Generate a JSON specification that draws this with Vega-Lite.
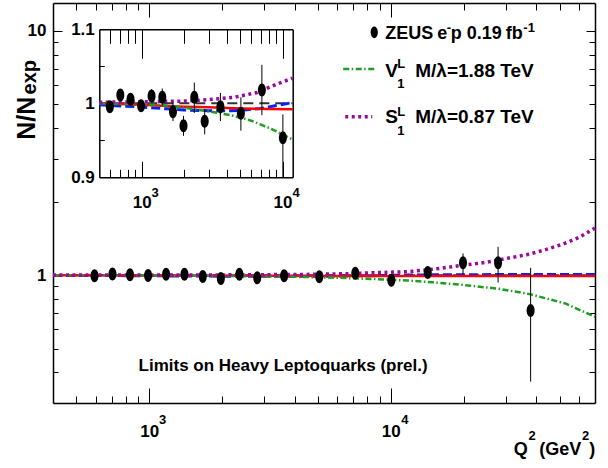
{
"$schema":"https://vega.github.io/schema/vega-lite/v6.json",
"width":542,"height":400,
"autosize":{"type":"none"},
"padding":{"left":53,"top":3,"right":13,"bottom":65},
"background":"white",
"config":{"view":{"stroke":null},"axis":{"grid":false,"domainColor":"black","domainWidth":1.5,"tickColor":"black","tickWidth":1,"labelFont":"Liberation Sans","labelFontWeight":"bold","labelFontSize":17,"labelColor":"black","labelFlush":false,"labelOverlap":false,"labelBound":false}},
"datasets":{
"pts":[
{"q":594,"r":0.9954,"lo":0.989,"hi":1.002},
{"q":705,"r":1.0112,"lo":1.004,"hi":1.018},
{"q":833,"r":1.0054,"lo":0.998,"hi":1.013},
{"q":990,"r":0.9968,"lo":0.989,"hi":1.005},
{"q":1175,"r":1.0099,"lo":1.001,"hi":1.019},
{"q":1400,"r":1.0081,"lo":0.997,"hi":1.020},
{"q":1667,"r":0.9887,"lo":0.976,"hi":1.001},
{"q":1980,"r":0.9697,"lo":0.956,"hi":0.983},
{"q":2363,"r":1.0081,"lo":0.987,"hi":1.028},
{"q":2800,"r":0.9757,"lo":0.958,"hi":0.992},
{"q":3620,"r":0.9954,"lo":0.976,"hi":1.014},
{"q":5060,"r":0.9865,"lo":0.963,"hi":1.008},
{"q":7130,"r":1.018,"lo":0.984,"hi":1.052},
{"q":10050,"r":0.9535,"lo":0.9,"hi":0.985},
{"q":14220,"r":1.026,"lo":0.99,"hi":1.062},
{"q":19900,"r":1.124,"lo":1.009,"hi":1.228},
{"q":27800,"r":1.124,"lo":0.933,"hi":1.307},
{"q":37900,"r":0.718,"lo":0.367,"hi":1.072}
],
"curves":[
{"q":400,"r":1,"model":"SM"},{"q":500,"r":1,"model":"SM"},{"q":11800,"r":1,"model":"SM"},{"q":70000,"r":1,"model":"SM"},
{"q":400,"r":1.0,"model":"red"},{"q":500,"r":1.0,"model":"red"},{"q":700,"r":0.999,"model":"red"},{"q":1000,"r":0.998,"model":"red"},{"q":1500,"r":0.9965,"model":"red"},{"q":2000,"r":0.9955,"model":"red"},{"q":3000,"r":0.9945,"model":"red"},{"q":5000,"r":0.993,"model":"red"},{"q":8000,"r":0.9922,"model":"red"},{"q":11800,"r":0.992,"model":"red"},{"q":20000,"r":0.992,"model":"red"},{"q":70000,"r":0.992,"model":"red"},
{"q":400,"r":0.9985,"model":"blue"},{"q":500,"r":0.998,"model":"blue"},{"q":700,"r":0.9965,"model":"blue"},{"q":1000,"r":0.995,"model":"blue"},{"q":1500,"r":0.9925,"model":"blue"},{"q":2000,"r":0.991,"model":"blue"},{"q":3000,"r":0.99,"model":"blue"},{"q":4000,"r":0.99,"model":"blue"},{"q":5000,"r":0.9905,"model":"blue"},{"q":7000,"r":0.993,"model":"blue"},{"q":9000,"r":0.997,"model":"blue"},{"q":11800,"r":1.001,"model":"blue"},{"q":15000,"r":1.004,"model":"blue"},{"q":20000,"r":1.005,"model":"blue"},{"q":30000,"r":1.006,"model":"blue"},{"q":70000,"r":1.006,"model":"blue"},
{"q":400,"r":1.0,"model":"V"},{"q":500,"r":1.0,"model":"V"},{"q":700,"r":0.9995,"model":"V"},{"q":1000,"r":0.999,"model":"V"},{"q":1500,"r":0.997,"model":"V"},{"q":2000,"r":0.994,"model":"V"},{"q":3000,"r":0.989,"model":"V"},{"q":4300,"r":0.984,"model":"V"},{"q":5900,"r":0.977,"model":"V"},{"q":8200,"r":0.966,"model":"V"},{"q":10000,"r":0.958,"model":"V"},{"q":11800,"r":0.951,"model":"V"},{"q":15000,"r":0.935,"model":"V"},{"q":20000,"r":0.912,"model":"V"},{"q":28000,"r":0.88,"model":"V"},{"q":38000,"r":0.835,"model":"V"},{"q":53000,"r":0.765,"model":"V"},{"q":70000,"r":0.675,"model":"V"},
{"q":400,"r":1.0015,"model":"S"},{"q":500,"r":1.0015,"model":"S"},{"q":1000,"r":1.002,"model":"S"},{"q":2000,"r":1.003,"model":"S"},{"q":3000,"r":1.005,"model":"S"},{"q":4500,"r":1.008,"model":"S"},{"q":6600,"r":1.0145,"model":"S"},{"q":9100,"r":1.026,"model":"S"},{"q":11800,"r":1.034,"model":"S"},{"q":15000,"r":1.058,"model":"S"},{"q":20000,"r":1.099,"model":"S"},{"q":25000,"r":1.13,"model":"S"},{"q":30000,"r":1.17,"model":"S"},{"q":37500,"r":1.22,"model":"S"},{"q":44000,"r":1.275,"model":"S"},{"q":51500,"r":1.34,"model":"S"},{"q":60400,"r":1.43,"model":"S"},{"q":70000,"r":1.56,"model":"S"}
],
"leg":[
{"q":6355,"r":6.981,"model":"V"},{"q":8623,"r":6.981,"model":"V"},
{"q":6478,"r":4.455,"model":"S"},{"q":8380,"r":4.455,"model":"S"}
],
"legmark":[{"q":8541,"r":9.864}],
"txtL":[
{"q":9484,"r":6.493,"t":"V"},{"q":12624,"r":6.493,"t":"M/λ=1.88 TeV"},
{"q":9484,"r":4.184,"t":"S"},{"q":12624,"r":4.184,"t":"M/λ=0.87 TeV"}
],
"txtZ":[
{"q":9484,"r":9.235,"t":"ZEUS"},{"q":15573,"r":9.235,"t":"e"},{"q":17712,"r":9.235,"t":"p"},{"q":20630,"r":9.235,"t":"0.19"},{"q":29930,"r":9.235,"t":"fb"}
],
"txtX":[
{"q":32240,"r":0.1837,"t":"Q"},{"q":41190,"r":0.1837,"t":"(GeV"},{"q":66340,"r":0.1837,"t":")"}
],
"txtS":[
{"q":17050,"r":9.92,"t":"-"},{"q":35370,"r":9.92,"t":"-1"},
{"q":10635,"r":7.027,"t":"L"},{"q":10635,"r":5.82,"t":"1"},
{"q":10635,"r":4.497,"t":"L"},{"q":10635,"r":3.749,"t":"1"},
{"q":37100,"r":0.2117,"t":"2"},{"q":61780,"r":0.2117,"t":"2"},
{"q":1099.2,"r":0.24728,"t":"3"},{"q":11048,"r":0.24728,"t":"4"}
],
"txtLim":[{"q":904,"r":0.4056,"t":"Limits on Heavy Leptoquarks (prel.)"}],
"ytitle":[{"q":336.9,"r":5.377,"t":"N/N"}],
"ysub":[{"q":340.1,"r":7.6,"t":"exp"}],
"insetExp":[{"q":1173.5,"r":0.8738,"t":"3"},{"q":11763,"r":0.8738,"t":"4"}]
},
"resolve":{"scale":{"x":"independent","y":"independent"}},
"layer":[
{
"resolve":{"axis":{"x":"independent","y":"independent"}},
"layer":[
{"data":{"name":"curves"},"transform":[{"filter":"datum.model=='SM'"}],
 "mark":{"type":"line","color":"#333333","strokeWidth":2,"strokeDash":[10,6]},
 "encoding":{
  "x":{"field":"q","type":"quantitative","scale":{"type":"log","domain":[400,70000],"nice":false},
   "axis":{"orient":"bottom","title":null,"values":[500,600,700,800,900,1000,2000,3000,4000,5000,6000,7000,8000,9000,10000,20000,30000,40000,50000,60000],"labelExpr":"datum.value==1000||datum.value==10000?'10':''","tickSize":{"condition":{"test":"datum.value==1000||datum.value==10000","value":-15},"value":-7},"labelPadding":35}},
  "y":{"field":"r","type":"quantitative","scale":{"type":"log","domain":[0.3,13],"nice":false},
   "axis":{"orient":"left","title":null,"values":[0.4,0.5,0.6,0.7,0.8,0.9,1,2,3,4,5,6,7,8,9,10],"labelExpr":"datum.value==1?'1':datum.value==10?'10':''","tickSize":{"condition":{"test":"datum.value==1||datum.value==10","value":-9},"value":-5},"labelPadding":16}}}},
{"data":{"name":"curves"},"transform":[{"filter":"datum.model=='blue'"}],
 "mark":{"type":"line","color":"#0022ff","strokeWidth":3,"strokeDash":[9,4]},
 "encoding":{
  "x":{"field":"q","type":"quantitative","scale":{"type":"log","domain":[400,70000],"nice":false},
   "axis":{"orient":"top","title":null,"values":[500,600,700,800,900,1000,2000,3000,4000,5000,6000,7000,8000,9000,10000,20000,30000,40000,50000,60000],"labels":false,"tickSize":{"condition":{"test":"datum.value==1000||datum.value==10000","value":-14},"value":-7}}},
  "y":{"field":"r","type":"quantitative","scale":{"type":"log","domain":[0.3,13],"nice":false},
   "axis":{"orient":"right","title":null,"values":[0.4,0.5,0.6,0.7,0.8,0.9,1,2,3,4,5,6,7,8,9,10],"labels":false,"tickSize":{"condition":{"test":"datum.value==1||datum.value==10","value":-9},"value":-6}}}}},
{"data":{"name":"curves"},"transform":[{"filter":"datum.model=='red'"}],
 "mark":{"type":"line","color":"#ff0000","strokeWidth":2.5},
 "encoding":{"x":{"field":"q","type":"quantitative","scale":{"type":"log","domain":[400,70000],"nice":false},"axis":null},
  "y":{"field":"r","type":"quantitative","scale":{"type":"log","domain":[0.3,13],"nice":false},"axis":null}}},
{"data":{"name":"curves"},"transform":[{"filter":"datum.model=='V'"}],
 "mark":{"type":"line","color":"#1e9e1e","strokeWidth":2.5,"strokeDash":[6,2.5,1.5,2.5]},
 "encoding":{"x":{"field":"q","type":"quantitative","scale":{"type":"log","domain":[400,70000],"nice":false},"axis":null},
  "y":{"field":"r","type":"quantitative","scale":{"type":"log","domain":[0.3,13],"nice":false},"axis":null}}},
{"data":{"name":"curves"},"transform":[{"filter":"datum.model=='S'"}],
 "mark":{"type":"line","color":"#9a0a9a","strokeWidth":3.5,"strokeDash":[3,3.5]},
 "encoding":{"x":{"field":"q","type":"quantitative","scale":{"type":"log","domain":[400,70000],"nice":false},"axis":null},
  "y":{"field":"r","type":"quantitative","scale":{"type":"log","domain":[0.3,13],"nice":false},"axis":null}}},
{"data":{"name":"pts"},
 "mark":{"type":"rule","color":"black","strokeWidth":1},
 "encoding":{"x":{"field":"q","type":"quantitative","scale":{"type":"log","domain":[400,70000],"nice":false},"axis":null},
  "y":{"field":"lo","type":"quantitative","scale":{"type":"log","domain":[0.3,13],"nice":false},"axis":null},
  "y2":{"field":"hi"}}},
{"data":{"name":"pts"},
 "mark":{"type":"point","filled":true,"color":"black","opacity":1,"size":169,"shape":"M-0.615,0A0.615,1,0,1,0,0.615,0A0.615,1,0,1,0,-0.615,0Z"},
 "encoding":{"x":{"field":"q","type":"quantitative","scale":{"type":"log","domain":[400,70000],"nice":false},"axis":null},
  "y":{"field":"r","type":"quantitative","scale":{"type":"log","domain":[0.3,13],"nice":false},"axis":null}}},
{"data":{"name":"leg"},"transform":[{"filter":"datum.model=='V'"}],
 "mark":{"type":"line","color":"#1e9e1e","strokeWidth":2.5,"strokeDash":[6,2.5,1.5,2.5]},
 "encoding":{"x":{"field":"q","type":"quantitative","scale":{"type":"log","domain":[400,70000],"nice":false},"axis":null},
  "y":{"field":"r","type":"quantitative","scale":{"type":"log","domain":[0.3,13],"nice":false},"axis":null}}},
{"data":{"name":"leg"},"transform":[{"filter":"datum.model=='S'"}],
 "mark":{"type":"line","color":"#9a0a9a","strokeWidth":3.5,"strokeDash":[3,3.5]},
 "encoding":{"x":{"field":"q","type":"quantitative","scale":{"type":"log","domain":[400,70000],"nice":false},"axis":null},
  "y":{"field":"r","type":"quantitative","scale":{"type":"log","domain":[0.3,13],"nice":false},"axis":null}}},
{"data":{"name":"legmark"},
 "mark":{"type":"point","filled":true,"color":"black","opacity":1,"size":137,"shape":"M-0.615,0A0.615,1,0,1,0,0.615,0A0.615,1,0,1,0,-0.615,0Z"},
 "encoding":{"x":{"field":"q","type":"quantitative","scale":{"type":"log","domain":[400,70000],"nice":false},"axis":null},
  "y":{"field":"r","type":"quantitative","scale":{"type":"log","domain":[0.3,13],"nice":false},"axis":null}}},
{"data":{"name":"txtL"},
 "mark":{"type":"text","font":"Liberation Sans","fontWeight":"bold","fontSize":19,"align":"left","baseline":"alphabetic","color":"black"},
 "encoding":{"x":{"field":"q","type":"quantitative","scale":{"type":"log","domain":[400,70000],"nice":false},"axis":null},
  "y":{"field":"r","type":"quantitative","scale":{"type":"log","domain":[0.3,13],"nice":false},"axis":null},
  "text":{"field":"t"}}},
{"data":{"name":"txtZ"},
 "mark":{"type":"text","font":"Liberation Sans","fontWeight":"bold","fontSize":18,"align":"left","baseline":"alphabetic","color":"black"},
 "encoding":{"x":{"field":"q","type":"quantitative","scale":{"type":"log","domain":[400,70000],"nice":false},"axis":null},
  "y":{"field":"r","type":"quantitative","scale":{"type":"log","domain":[0.3,13],"nice":false},"axis":null},
  "text":{"field":"t"}}},
{"data":{"name":"txtX"},
 "mark":{"type":"text","font":"Liberation Sans","fontWeight":"bold","fontSize":18,"align":"left","baseline":"alphabetic","color":"black"},
 "encoding":{"x":{"field":"q","type":"quantitative","scale":{"type":"log","domain":[400,70000],"nice":false},"axis":null},
  "y":{"field":"r","type":"quantitative","scale":{"type":"log","domain":[0.3,13],"nice":false},"axis":null},
  "text":{"field":"t"}}},
{"data":{"name":"txtS"},
 "mark":{"type":"text","font":"Liberation Sans","fontWeight":"bold","fontSize":13,"align":"left","baseline":"alphabetic","color":"black"},
 "encoding":{"x":{"field":"q","type":"quantitative","scale":{"type":"log","domain":[400,70000],"nice":false},"axis":null},
  "y":{"field":"r","type":"quantitative","scale":{"type":"log","domain":[0.3,13],"nice":false},"axis":null},
  "text":{"field":"t"}}},
{"data":{"name":"txtLim"},
 "mark":{"type":"text","font":"Liberation Sans","fontWeight":"bold","fontSize":17,"align":"left","baseline":"alphabetic","color":"black"},
 "encoding":{"x":{"field":"q","type":"quantitative","scale":{"type":"log","domain":[400,70000],"nice":false},"axis":null},
  "y":{"field":"r","type":"quantitative","scale":{"type":"log","domain":[0.3,13],"nice":false},"axis":null},
  "text":{"field":"t"}}},
{"data":{"name":"ytitle"},
 "mark":{"type":"text","font":"Liberation Sans","fontWeight":"bold","fontSize":25,"angle":270,"align":"right","baseline":"alphabetic","color":"black"},
 "encoding":{"x":{"field":"q","type":"quantitative","scale":{"type":"log","domain":[400,70000],"nice":false},"axis":null},
  "y":{"field":"r","type":"quantitative","scale":{"type":"log","domain":[0.3,13],"nice":false},"axis":null},
  "text":{"field":"t"}}},
{"data":{"name":"ysub"},
 "mark":{"type":"text","font":"Liberation Sans","fontWeight":"bold","fontSize":20,"angle":270,"align":"right","baseline":"alphabetic","color":"black"},
 "encoding":{"x":{"field":"q","type":"quantitative","scale":{"type":"log","domain":[400,70000],"nice":false},"axis":null},
  "y":{"field":"r","type":"quantitative","scale":{"type":"log","domain":[0.3,13],"nice":false},"axis":null},
  "text":{"field":"t"}}}
]
},
{
"resolve":{"axis":{"x":"independent","y":"independent"}},
"layer":[
{"data":{"name":"curves"},"transform":[{"filter":"datum.model=='SM' && datum.q>=500 && datum.q<=11800"}],
 "mark":{"type":"line","color":"#333333","strokeWidth":2,"strokeDash":[10,6]},
 "encoding":{
  "x":{"field":"q","type":"quantitative","scale":{"type":"log","domain":[500,11800],"range":[46.3,239.7],"nice":false},
   "axis":{"orient":"bottom","offset":-225.7,"title":null,"values":[600,700,800,900,1000,2000,3000,4000,5000,6000,7000,8000,9000,10000],"labelExpr":"datum.value==1000||datum.value==10000?'10':''","tickSize":{"condition":{"test":"datum.value==1000||datum.value==10000","value":-16},"value":-8},"labelPadding":33}},
  "y":{"field":"r","type":"quantitative","scale":{"type":"linear","domain":[0.9,1.1],"range":[174.3,26.3],"nice":false,"zero":false},
   "axis":{"orient":"left","offset":-46.3,"title":null,"values":[0.9,0.95,1,1.05,1.1],"labelExpr":"datum.value==1.1?'1.1':datum.value==1?'1':datum.value==0.9?'0.9':''","tickSize":{"condition":{"test":"datum.value==0.9||datum.value==1||datum.value==1.1","value":-8},"value":-5},"labelPadding":13}}}},
{"data":{"name":"curves"},"transform":[{"filter":"datum.model=='blue' && datum.q>=500 && datum.q<=11800"}],
 "mark":{"type":"line","color":"#0022ff","strokeWidth":3,"strokeDash":[9,4]},
 "encoding":{
  "x":{"field":"q","type":"quantitative","scale":{"type":"log","domain":[500,11800],"range":[46.3,239.7],"nice":false},
   "axis":{"orient":"top","offset":-26.3,"title":null,"values":[600,700,800,900,1000,2000,3000,4000,5000,6000,7000,8000,9000,10000],"labels":false,"tickSize":{"condition":{"test":"datum.value==1000||datum.value==10000","value":-29},"value":-14}}},
  "y":{"field":"r","type":"quantitative","scale":{"type":"linear","domain":[0.9,1.1],"range":[174.3,26.3],"nice":false,"zero":false},
   "axis":{"orient":"right","offset":-302.3,"title":null,"ticks":false,"labels":false}}}},
{"data":{"name":"curves"},"transform":[{"filter":"datum.model=='red' && datum.q>=500 && datum.q<=11800"}],
 "mark":{"type":"line","color":"#ff0000","strokeWidth":2.5},
 "encoding":{"x":{"field":"q","type":"quantitative","scale":{"type":"log","domain":[500,11800],"range":[46.3,239.7],"nice":false},"axis":null},
  "y":{"field":"r","type":"quantitative","scale":{"type":"linear","domain":[0.9,1.1],"range":[174.3,26.3],"nice":false,"zero":false},"axis":null}}},
{"data":{"name":"curves"},"transform":[{"filter":"datum.model=='V' && datum.q>=500 && datum.q<=11800"}],
 "mark":{"type":"line","color":"#1e9e1e","strokeWidth":2.5,"strokeDash":[6,2.5,1.5,2.5]},
 "encoding":{"x":{"field":"q","type":"quantitative","scale":{"type":"log","domain":[500,11800],"range":[46.3,239.7],"nice":false},"axis":null},
  "y":{"field":"r","type":"quantitative","scale":{"type":"linear","domain":[0.9,1.1],"range":[174.3,26.3],"nice":false,"zero":false},"axis":null}}},
{"data":{"name":"curves"},"transform":[{"filter":"datum.model=='S' && datum.q>=500 && datum.q<=11800"}],
 "mark":{"type":"line","color":"#9a0a9a","strokeWidth":3.5,"strokeDash":[3,3.5]},
 "encoding":{"x":{"field":"q","type":"quantitative","scale":{"type":"log","domain":[500,11800],"range":[46.3,239.7],"nice":false},"axis":null},
  "y":{"field":"r","type":"quantitative","scale":{"type":"linear","domain":[0.9,1.1],"range":[174.3,26.3],"nice":false,"zero":false},"axis":null}}},
{"data":{"name":"pts"},"transform":[{"filter":"datum.q<=11800"}],
 "mark":{"type":"rule","color":"black","strokeWidth":1},
 "encoding":{"x":{"field":"q","type":"quantitative","scale":{"type":"log","domain":[500,11800],"range":[46.3,239.7],"nice":false},"axis":null},
  "y":{"field":"lo","type":"quantitative","scale":{"type":"linear","domain":[0.9,1.1],"range":[174.3,26.3],"nice":false,"zero":false},"axis":null},
  "y2":{"field":"hi"}}},
{"data":{"name":"pts"},"transform":[{"filter":"datum.q<=11800"}],
 "mark":{"type":"point","filled":true,"color":"black","opacity":1,"size":169,"shape":"M-0.615,0A0.615,1,0,1,0,0.615,0A0.615,1,0,1,0,-0.615,0Z"},
 "encoding":{"x":{"field":"q","type":"quantitative","scale":{"type":"log","domain":[500,11800],"range":[46.3,239.7],"nice":false},"axis":null},
  "y":{"field":"r","type":"quantitative","scale":{"type":"linear","domain":[0.9,1.1],"range":[174.3,26.3],"nice":false,"zero":false},"axis":null}}},
{"data":{"name":"insetExp"},
 "mark":{"type":"text","font":"Liberation Sans","fontWeight":"bold","fontSize":13,"align":"left","baseline":"alphabetic","color":"black"},
 "encoding":{"x":{"field":"q","type":"quantitative","scale":{"type":"log","domain":[500,11800],"range":[46.3,239.7],"nice":false},"axis":null},
  "y":{"field":"r","type":"quantitative","scale":{"type":"linear","domain":[0.9,1.1],"range":[174.3,26.3],"nice":false,"zero":false},"axis":null},
  "text":{"field":"t"}}}
]
}
]
}
